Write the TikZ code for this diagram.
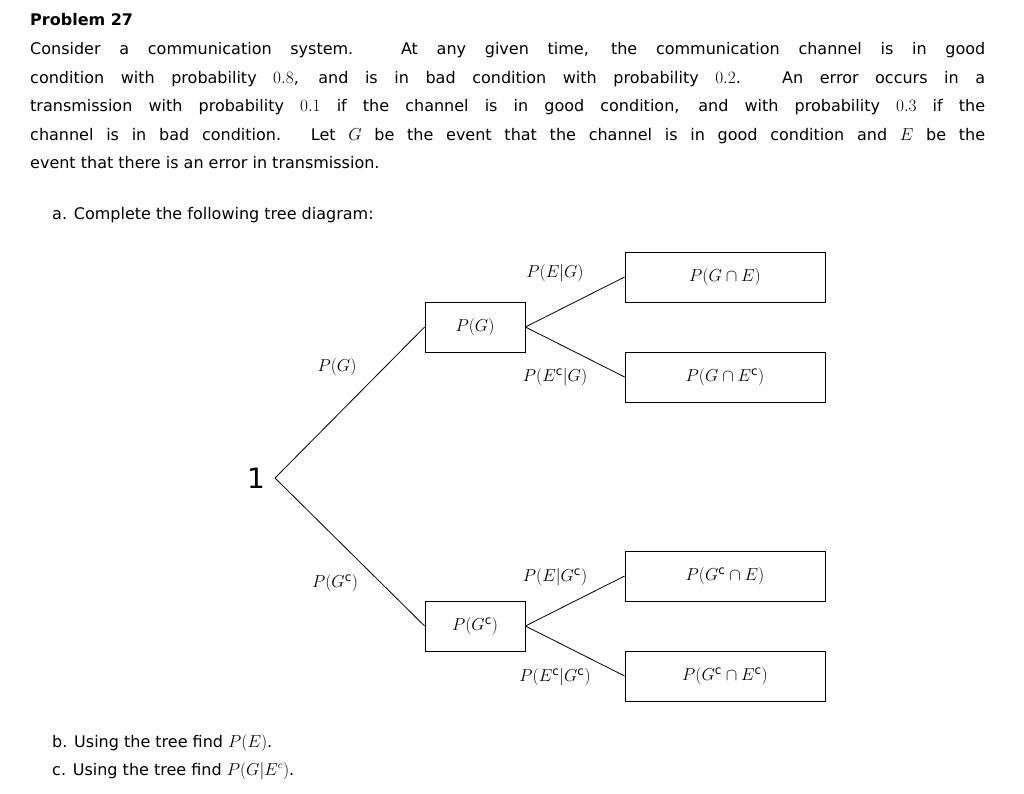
\documentclass[tikz,border=0pt]{standalone}
\usepackage{fontspec}
\setmainfont{DejaVu Sans}
\newfontfamily\serif{Liberation Serif}
\begin{document}
\begin{tikzpicture}[x=1pt,y=-1pt,
  txt/.style={anchor=west,inner sep=0pt,font=\fontsize{16}{19}\selectfont},
  line/.style={anchor=base west,inner sep=0pt,text width=955pt,align=justify,font=\fontsize{16}{19}\selectfont},
  bx/.style={draw,thick,minimum width=100pt,minimum height=50pt,inner sep=0pt,font=\fontsize{17}{20}\selectfont},
  bxw/.style={bx,minimum width=200pt},
  lab/.style={inner sep=0pt,font=\fontsize{17}{20}\selectfont},
  br/.style={thick}]
\useasboundingbox (0,0) rectangle (1024,794);
\node[txt,anchor=base west,font=\bfseries\fontsize{16}{19}\selectfont] at (30,26) {Problem 27};
\node[line] at (30,55) {{\parfillskip=0pt Consider a communication system. At any given time, the communication channel is in good\par}};
\node[line] at (30,84) {{\parfillskip=0pt condition with probability $0.8$, and is in bad condition with probability $0.2$. An error occurs in a\par}};
\node[line] at (30,112) {{\parfillskip=0pt transmission with probability $0.1$ if the channel is in good condition, and with probability $0.3$ if the\par}};
\node[line] at (30,141) {{\parfillskip=0pt channel is in bad condition. Let $G$ be the event that the channel is in good condition and $E$ be the\par}};
\node[txt,anchor=base west] at (30,169) {event that there is an error in transmission.};
\node[txt,anchor=base west] at (52,220) {a. Complete the following tree diagram:};
\node[txt,anchor=base west] at (52,747) {b. Using the tree find $P(E)$.};
\node[txt,anchor=base west] at (52,775) {c. Using the tree find $P(G|E^c)$.};

\node[lab,font=\fontsize{28}{30}\selectfont] (one) at (256,478) {1};
\coordinate (root) at (275,478);
\node[bx] (g) at (475,327) {$P(G)$};
\node[bx] (gc) at (475,626) {$P(G^{\mathrm{c}})$};
\node[bxw] (ge) at (725,277) {$P(G\cap E)$};
\node[bxw] (gec) at (725,377) {$P(G\cap E^{\mathrm{c}})$};
\node[bxw] (gce) at (725,576) {$P(G^{\mathrm{c}}\cap E)$};
\node[bxw] (gcec) at (725,676) {$P(G^{\mathrm{c}}\cap E^{\mathrm{c}})$};
\draw[br] (root) -- (g.west);
\draw[br] (root) -- (gc.west);
\draw[br] (g.east) -- (ge.west);
\draw[br] (g.east) -- (gec.west);
\draw[br] (gc.east) -- (gce.west);
\draw[br] (gc.east) -- (gcec.west);
\node[lab] (l1) at (337,367) {$P(G)$};
\node[lab] (l2) at (335,583) {$P(G^{\mathrm{c}})$};
\node[lab] (l3) at (555,273) {$P(E|G)$};
\node[lab] (l4) at (555,377) {$P(E^{\mathrm{c}}|G)$};
\node[lab] (l5) at (555,577) {$P(E|G^{\mathrm{c}})$};
\node[lab] (l6) at (555,677) {$P(E^{\mathrm{c}}|G^{\mathrm{c}})$};
\end{tikzpicture}
\end{document}
